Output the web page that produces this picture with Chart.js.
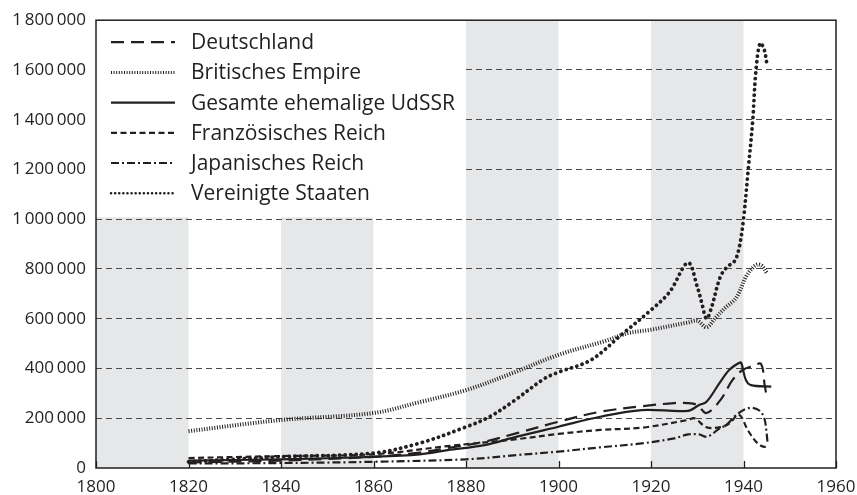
<!DOCTYPE html>
<html>
<head>
<meta charset="utf-8">
<script src="https://cdn.jsdelivr.net/npm/chart.js@4/dist/chart.umd.min.js"></script>
<style>
  html, body { margin: 0; padding: 0; background: #fff; }
</style>
</head>
<body>
<canvas id="myChart" width="857" height="495"></canvas>
<script>
// values in thousands, [year, value]
const deutschland = [[1820,22],[1840,30],[1860,45],[1870,62],[1876,80],[1884,106],[1891,140],[1900,186],[1909,226],[1918,248],[1925,261],[1928,261],[1930,253],[1932,221],[1935,273],[1937.6,353],[1939.8,394],[1942,410],[1943.8,418],[1944.6,330],[1945,290]];
const britisch = [[1820,148],[1840,193],[1860,221],[1870,265],[1880,313],[1890,381],[1900,455],[1910,510],[1915,542],[1920,556],[1928,585],[1930,592],[1932,566],[1934,605],[1936,643],[1938,675],[1939,703],[1940.5,768],[1942,805],[1943,818],[1944,812],[1945,785]];
const udssr = [[1820,30],[1840,35],[1860,45],[1870,55],[1876,72],[1884,92],[1891,126],[1900,166],[1909,206],[1918,233],[1928,230],[1930.4,253],[1932,266],[1934.8,341],[1936.9,394],[1939,422],[1939.5,423],[1940.5,354],[1941.6,333],[1946,327]];
const frankreich = [[1820,40],[1840,48],[1860,55],[1876,88],[1891,116],[1900,137],[1909,153],[1918,162],[1928,193],[1929.4,200],[1932,164],[1935,164],[1937,180],[1939,215],[1941,150],[1943,100],[1944.5,85],[1945.3,95]];
const japan = [[1820,18],[1840,20],[1860,25],[1880,35],[1891,52],[1900,66],[1909,83],[1918,99],[1925,119],[1928,135],[1930.4,135],[1932.2,126],[1934.8,159],[1936.3,173],[1938.4,213],[1940.6,238],[1942,242],[1943.5,230],[1944.5,200],[1945,140],[1945.2,100]];
const usa = [[1820,25],[1840,45],[1860,60],[1870,100],[1880,165],[1885,205],[1890,265],[1897,360],[1900,385],[1907,434],[1914,542],[1920,635],[1924,707],[1928,825],[1930,729],[1931,662],[1932,600],[1933,640],[1935,769],[1936.5,809],[1938,830],[1939,880],[1940,1000],[1941,1197],[1942,1398],[1942.7,1600],[1943.6,1708],[1944.5,1680],[1945,1631]];

const seriesNames = ['Deutschland', 'Britisches Empire', 'Gesamte ehemalige UdSSR', 'Französisches Reich', 'Japanisches Reich', 'Vereinigte Staaten'];
const bands = [[1800,1820],[1840,1860],[1880,1900],[1920,1940]];
const yTicks = [0, 200, 400, 600, 800, 1000, 1200, 1400, 1600, 1800];
const xTicks = [1800, 1820, 1840, 1860, 1880, 1900, 1920, 1940, 1960];

const ink = '#231f20';
const styles = [
    { width: 2.2, dash: [13, 7], cap: 'butt' },
    { width: 4, dash: [1, 1.6], cap: 'butt' },
    { width: 2.2, dash: [], cap: 'butt' },
    { width: 2.2, dash: [6, 3.5], cap: 'butt' },
    { width: 2.2, dash: [8, 3, 2, 3], cap: 'butt' },
    { width: 3.8, dash: [0.1, 5.5], cap: 'round' },
];
const allSeries = [deutschland, britisch, udssr, frankreich, japan, usa];

function fmt(v) {
    const s = String(Math.round(v * 1000));
    return s.replace(/\B(?=(\d{3})+(?!\d))/g, '\u2009');
}

const backdrop = {
    id: 'backdrop',
    beforeDraw(chart) {
        const { ctx, chartArea: a, scales: { x } } = chart;
        ctx.save();
        ctx.fillStyle = '#e6e7e8';
        bands.forEach(([s, e]) => {
            const x0 = x.getPixelForValue(s), x1 = x.getPixelForValue(e);
            ctx.fillRect(x0, a.top, x1 - x0, a.bottom - a.top);
        });
        ctx.restore();
    },
    afterDraw(chart) {
        const { ctx, chartArea: a, scales: { x } } = chart;
        ctx.save();
        // legend box
        ctx.fillStyle = '#fff';
        ctx.fillRect(a.left, a.top, x.getPixelForValue(1880) - a.left, 197);
        ctx.font = '21px "Open Sans"';
        ctx.textBaseline = 'middle';
        seriesNames.forEach((name, i) => {
            const y = a.top + 22 + i * 30.2;
            const st = styles[i];
            ctx.strokeStyle = ink;
            ctx.lineWidth = i === 1 ? 3 : (i === 5 ? 2.5 : st.width);
            ctx.lineCap = st.cap;
            ctx.setLineDash(i === 5 ? [0.1, 4] : st.dash);
            ctx.beginPath();
            ctx.moveTo(a.left + 15, y);
            ctx.lineTo(a.left + 79, y);
            ctx.stroke();
            ctx.setLineDash([]);
            ctx.fillStyle = ink;
            ctx.fillText(name, a.left + 95, y + 1);
        });
        // inner x ticks
        ctx.strokeStyle = ink;
        ctx.lineWidth = 1.3;
        ctx.lineCap = 'butt';
        xTicks.forEach(t => {
            const px = Math.round(x.getPixelForValue(t)) + 0.5;
            ctx.beginPath();
            ctx.moveTo(px, a.bottom);
            ctx.lineTo(px, a.bottom - 7);
            ctx.stroke();
        });
        // frame
        ctx.lineWidth = 1.5;
        ctx.strokeRect(a.left, a.top, a.right - a.left, a.bottom - a.top);
        ctx.restore();
    }
};

const ds = allSeries.map((pts, i) => ({
    label: seriesNames[i],
    data: pts.map(p => ({ x: p[0], y: p[1] })),
    borderColor: ink,
    borderWidth: styles[i].width,
    borderDash: styles[i].dash,
    borderCapStyle: styles[i].cap,
    pointRadius: 0,
    tension: 0.35,
    fill: false,
}));

new Chart(document.getElementById('myChart').getContext('2d'), {
    type: 'line',
    data: { datasets: ds },
    options: {
        responsive: false,
        animation: false,
        layout: { padding: { left: 0, top: 20, right: 21, bottom: 0 } },
        plugins: { legend: { display: false }, tooltip: { enabled: false } },
        scales: {
            x: {
                type: 'linear',
                min: 1800, max: 1960,
                afterBuildTicks: s => { s.ticks = xTicks.map(v => ({ value: v })); },
                afterFit: s => { s.height = 27; s.paddingLeft = 0; s.paddingRight = 0; },
                grid: { display: false, drawTicks: false },
                border: { display: false },
                ticks: { color: ink, font: { family: 'Open Sans', size: 17 }, padding: 9, callback: v => String(v) },
            },
            y: {
                min: 0, max: 1800,
                afterBuildTicks: s => { s.ticks = yTicks.map(v => ({ value: v })); },
                afterFit: s => { s.width = 96; },
                grid: {
                    color: c => (c.tick && (c.tick.value === 0 || c.tick.value === 1800)) ? 'rgba(0,0,0,0)' : '#4a4a4a',
                    lineWidth: 1,
                    drawTicks: false,
                },
                border: { display: false, dash: [6, 4] },
                ticks: { color: ink, font: { family: 'Open Sans', size: 17 }, padding: 10, callback: v => fmt(v) },
            },
        },
    },
    plugins: [backdrop],
});
</script>
</body>
</html>
